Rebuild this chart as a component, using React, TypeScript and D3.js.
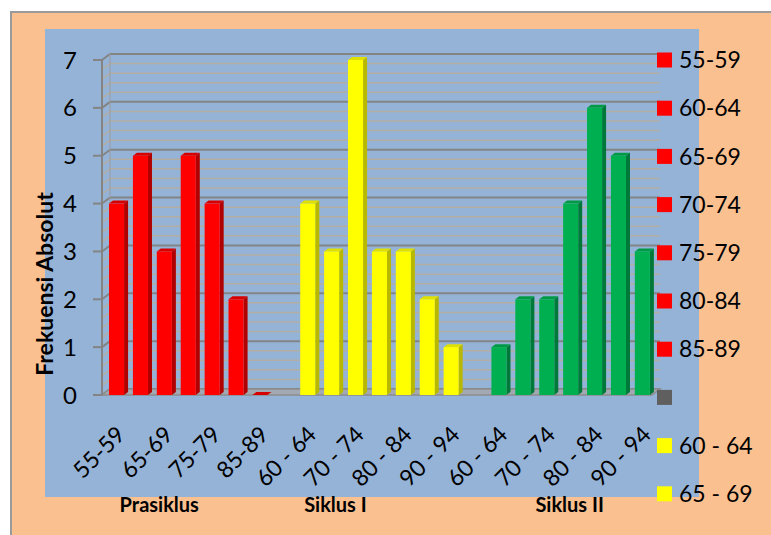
import * as d3 from 'd3'

const groups = ['Prasiklus', 'Siklus I', 'Siklus II']
const prasiklusLabels = ['55-59', '60-64', '65-69', '70-74', '75-79', '80-84', '85-89']
const siklusLabels = ['60 - 64', '65 - 69', '70 - 74', '75 - 79', '80 - 84', '85 - 89', '90 - 94']
const prasiklusValues = [4, 5, 3, 5, 4, 2, 0]
const siklus1Values = [4, 3, 7, 3, 3, 2, 1]
const siklus2Values = [1, 2, 2, 4, 6, 5, 3]
const groupColors = [
  { front: '#ff0000', side: '#b00000', top: '#d60000' },
  { front: '#ffff00', side: '#b8b800', top: '#e0e000' },
  { front: '#00b050', side: '#00783a', top: '#009a46' },
]
const yTicks = [0, 1, 2, 3, 4, 5, 6, 7]
const legendItems = [
  { label: '55-59', color: '#ff0000' },
  { label: '60-64', color: '#ff0000' },
  { label: '65-69', color: '#ff0000' },
  { label: '70-74', color: '#ff0000' },
  { label: '75-79', color: '#ff0000' },
  { label: '80-84', color: '#ff0000' },
  { label: '85-89', color: '#ff0000' },
  { label: '', color: '#5f5f5f' },
  { label: '60 - 64', color: '#ffff00' },
  { label: '65 - 69', color: '#ffff00' },
]

type Cat = { key: string; label: string; value: number | null; group: number }

// 7 + gap + 7 + gap + 7 slots
const cats: Cat[] = []
const groupData = [
  { labels: prasiklusLabels, values: prasiklusValues },
  { labels: siklusLabels, values: siklus1Values },
  { labels: siklusLabels, values: siklus2Values },
]
groupData.forEach((g, gi) => {
  if (gi > 0) cats.push({ key: `gap${gi}`, label: '', value: null, group: gi })
  g.labels.forEach((l, i) => cats.push({ key: `${gi}-${i}`, label: l, value: g.values[i], group: gi }))
})

const FONT = 'Lato, "Liberation Sans", sans-serif'
// excel places the group captions a bit off the group centre
const groupNudge = [-29, -44, -1]

export default function App() {
  const W = 771
  const H = 535
  const x = d3
    .scaleBand<string>()
    .domain(cats.map(c => c.key))
    .range([104.6, 654.3])
    .paddingInner(0.37)
    .paddingOuter(0.185)
  const y = d3.scaleLinear().domain([0, 7]).range([395, 60])
  const bw = x.bandwidth()

  // back wall depth
  const wdx = 8
  const wdy = -6
  const axisX = 102
  const wallRight = 660
  // bar depth
  const bdx = 4
  const bdy = -3

  const minorTicks = d3.range(0, 7.001, 0.2).filter(v => Math.abs(v - Math.round(v)) > 0.01)

  return (
    <svg
      width={W}
      height={H}
      style={{ position: 'absolute', left: 0, top: 0, background: '#fff' }}
      fontFamily={FONT}
    >
      <rect x={11} y={12} width={W} height={H} fill="#fac090" stroke="#9a9a9a" strokeWidth={2} />
      <rect x={45} y={29} width={654} height={468} fill="#95b3d7" />

      {/* minor gridlines */}
      {minorTicks.map(v => (
        <g key={`m${v}`} stroke="#b3aea4" strokeWidth={1.5} fill="none">
          <line x1={axisX} y1={y(v)} x2={axisX + wdx} y2={y(v) + wdy} />
          <line x1={axisX + wdx} y1={y(v) + wdy} x2={wallRight} y2={y(v) + wdy} />
        </g>
      ))}
      {/* major gridlines */}
      {yTicks.map(v => (
        <g key={`g${v}`} stroke="#848484" strokeWidth={2} fill="none">
          <line x1={axisX} y1={y(v)} x2={axisX + wdx} y2={y(v) + wdy} />
          <line x1={axisX + wdx} y1={y(v) + wdy} x2={wallRight} y2={y(v) + wdy} />
        </g>
      ))}
      {/* back-left corner */}
      <line x1={axisX + wdx} y1={y(0) + wdy} x2={axisX + wdx} y2={y(7) + wdy} stroke="#9a9a9a" strokeWidth={1} />
      {/* floor */}
      <polygon
        points={`${axisX},${y(0)} ${wallRight - wdx},${y(0)} ${wallRight},${y(0) + wdy} ${axisX + wdx},${y(0) + wdy}`}
        fill="#a3a9b2"
        stroke="#8c8c8c"
        strokeWidth={1.5}
      />

      {/* bars */}
      {cats.map(c => {
        if (c.value === null) return null
        const col = groupColors[c.group]
        const x0 = x(c.key)!
        const yt = y(c.value)
        const yb = y(0)
        return (
          <g key={c.key}>
            <polygon
              points={`${x0 + bw},${yt} ${x0 + bw + bdx},${yt + bdy} ${x0 + bw + bdx},${yb + bdy} ${x0 + bw},${yb}`}
              fill={col.side}
            />
            <polygon
              points={`${x0},${yt} ${x0 + bdx},${yt + bdy} ${x0 + bw + bdx},${yt + bdy} ${x0 + bw},${yt}`}
              fill={col.top}
            />
            {c.value > 0 && <rect x={x0} y={yt} width={bw} height={yb - yt} fill={col.front} />}
          </g>
        )
      })}

      {/* y axis */}
      <line x1={axisX} y1={y(0)} x2={axisX} y2={y(7)} stroke="#848484" strokeWidth={2} />
      {yTicks.map(v => (
        <g key={`t${v}`}>
          <line x1={93} y1={y(v)} x2={axisX} y2={y(v)} stroke="#848484" strokeWidth={2} />
          <text x={77} y={y(v)} dy="0.36em" textAnchor="end" fontSize={24} fill="#000">
            {v}
          </text>
        </g>
      ))}
      <text
        transform={`translate(53,${284}) rotate(-90)`}
        textAnchor="middle"
        fontSize={23}
        fontWeight="bold"
        fill="#000"
      >
        Frekuensi Absolut
      </text>

      {/* x labels */}
      {cats.map((c, i) => {
        if (c.value === null || i % 2 !== 0) return null
        const cx = x(c.key)! + bw / 2
        return (
          <text
            key={`xl${c.key}`}
            transform={`translate(${cx + 10},${436}) rotate(-45)`}
            textAnchor="end"
            fontSize={23}
            fill="#000"
          >
            {c.label}
          </text>
        )
      })}

      {/* group labels */}
      {groups.map((g, gi) => {
        const keys = cats.filter(c => c.group === gi && c.value !== null).map(c => c.key)
        const cx = (x(keys[0])! + x(keys[keys.length - 1])! + bw) / 2 + groupNudge[gi]
        return (
          <text key={g} x={cx} y={512} textAnchor="middle" fontSize={20} fontWeight="bold" fill="#000">
            {g}
          </text>
        )
      })}

      {/* legend */}
      {legendItems.map((it, i) => {
        const cy = 60 + i * 48.2
        return (
          <g key={`lg${i}`}>
            <rect x={657} y={cy - 7.5} width={15} height={15} fill={it.color} />
            <text x={679} y={cy} dy="0.36em" fontSize={23} fill="#000">
              {it.label}
            </text>
          </g>
        )
      })}
    </svg>
  )
}
